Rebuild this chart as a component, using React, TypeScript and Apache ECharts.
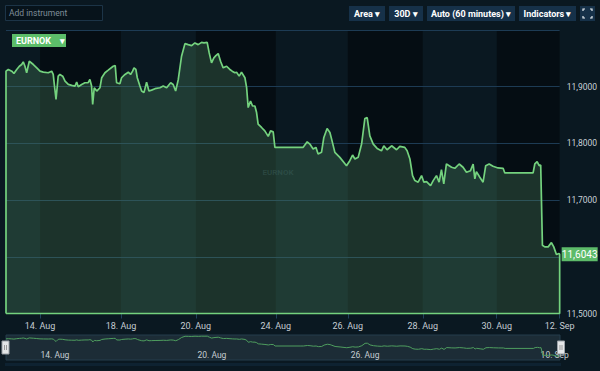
import React, { useEffect, useRef } from "react";
import * as echarts from "echarts";

// ordinal trading-hour index (weekends removed) and EURNOK price
const times = [
  0, 1.5, 3.7, 5.1, 6.9, 8.6, 10.1, 11.1, 12.2, 13.3,
  15.0, 17.6, 19.8, 21.9, 24.0, 27.2, 29.4, 30.4, 31.1, 32.2,
  33.6, 34.7, 36.5, 38.0, 40.1, 42.3, 44.4, 45.5, 46.5, 48.7,
  50.8, 52.9, 54.0, 55.1, 55.8, 56.8, 58.4, 60.5, 61.6, 63.7,
  65.8, 69.0, 70.3, 71.2, 73.3, 74.4, 76.6, 78.7, 80.2, 81.5,
  82.4, 83.6, 84.5, 86.2, 87.3, 88.8, 90.5, 92.0, 93.7, 95.9,
  99.1, 101.2, 103.4, 106.0, 107.6, 109.2, 110.9, 113.0, 115.2, 117.3,
  119.5, 121.6, 123.7, 125.9, 127.4, 129.5, 130.8, 132.3, 133.8, 135.1,
  136.6, 138.1, 139.8, 142.0, 144.1, 145.6, 147.3, 148.4, 150.1, 151.6,
  153.8, 154.9, 155.9, 157.4, 158.7, 160.2, 161.3, 162.3, 164.5, 166.6,
  168.8, 170.3, 172.0, 173.1, 189.2, 191.3, 193.9, 195.6, 197.7, 199.5,
  200.9, 203.1, 204.6, 206.7, 208.5, 209.6, 211.7, 214.9, 219.2, 221.3,
  223.1, 224.6, 226.7, 228.9, 231.0, 232.5, 234.2, 236.4, 238.9, 241.7,
  243.2, 245.3, 248.2, 251.4, 253.5, 256.7, 258.2, 260.0, 261.7, 263.2,
  265.3, 267.5, 269.0, 270.7, 273.3, 275.0, 277.1, 278.8, 280.3, 281.8,
  283.5, 286.8, 288.9, 291.7, 294.2, 296.4, 299.0, 300.7, 301.8, 302.8,
  305.0, 307.1, 308.8, 311.0, 313.5, 316.7, 320.0, 321.1, 339.3, 340.4,
  341.9, 343.2, 344.2, 345.3, 346.8, 349.0, 351.1, 352.6, 354.3, 356.0,
  356.4,
];

const prices = [
  11.9274, 11.9304, 11.9274, 11.9233, 11.9304, 11.9361, 11.9391, 11.9439, 11.9361, 11.9246,
  11.9449, 11.9391, 11.9333, 11.9274, 11.9256, 11.9246, 11.9274, 11.9216, 11.904, 11.8777,
  11.9186, 11.9216, 11.9186, 11.9098, 11.904, 11.9023, 11.9011, 11.9081, 11.9, 11.904,
  11.907, 11.907, 11.9128, 11.9011, 11.8689, 11.8982, 11.8923, 11.8982, 11.9158, 11.9246,
  11.9291, 11.9361, 11.9374, 11.907, 11.9053, 11.9158, 11.9216, 11.9256, 11.9216, 11.9274,
  11.9333, 11.9304, 11.9158, 11.9011, 11.8923, 11.8895, 11.9081, 11.8923, 11.894, 11.8965,
  11.8982, 11.9011, 11.8982, 11.907, 11.904, 11.8923, 11.9128, 11.9537, 11.976, 11.9742,
  11.9725, 11.9772, 11.9742, 11.9782, 11.9772, 11.9782, 11.9596, 11.9421, 11.9509, 11.9549,
  11.9584, 11.9449, 11.9333, 11.9361, 11.9304, 11.9274, 11.9246, 11.9256, 11.9186, 11.9256,
  11.9158, 11.8982, 11.8632, 11.8747, 11.866, 11.866, 11.8544, 11.8339, 11.8281, 11.8221,
  11.8123, 11.8221, 11.8204, 11.793, 11.793, 11.793, 11.8028, 11.7988, 11.79, 11.793,
  11.7812, 11.7842, 11.8105, 11.8263, 11.8193, 11.8075, 11.7842, 11.7754, 11.7607, 11.7695,
  11.7795, 11.7725, 11.7754, 11.7988, 11.8439, 11.8456, 11.8133, 11.7988, 11.7912, 11.787,
  11.7958, 11.7888, 11.7958, 11.7888, 11.7947, 11.793, 11.787, 11.7725, 11.7432, 11.7344,
  11.7316, 11.7432, 11.7316, 11.7326, 11.7256, 11.7344, 11.7432, 11.7316, 11.7537, 11.7286,
  11.7637, 11.7579, 11.7561, 11.7637, 11.7579, 11.7491, 11.7519, 11.7637, 11.7374, 11.7502,
  11.7404, 11.7316, 11.7607, 11.7637, 11.7596, 11.7567, 11.7561, 11.7479, 11.7479, 11.7637,
  11.7677, 11.7607, 11.7619, 11.6204, 11.6175, 11.6175, 11.6251, 11.6175, 11.604, 11.6058,
  11.6043,
];

const xTicks = [21.9, 74.0, 122.2, 173.7, 220.0, 268.3, 315.9, 356.4];
const xTickLabels = ["14. Aug", "18. Aug", "20. Aug", "24. Aug", "26. Aug", "28. Aug", "30. Aug", "12. Sep"];
const navTicks = [31.5, 132.5, 231.0, 353.0];
const navTickLabels = ["14. Aug", "20. Aug", "26. Aug", "10. Sep"];
const yMin = 11.5;
const yMax = 12.0;
const yStep = 0.1;
const navYMin = 11.53;
const navYMax = 12.0;
const symbolName = "EURNOK";
const buttons = ["Area ▾", "30D ▾", "Auto (60 minutes) ▾", "Indicators ▾"];

const FONT = "Roboto, 'Noto Sans', sans-serif";
const GREEN = "#74d27e";

const fmt = (v: number) => v.toFixed(4).replace(".", ",");

function labelFor(ticks: number[], labels: string[]) {
  return (v: number) => {
    const i = ticks.findIndex((t) => Math.abs(t - v) < 0.01);
    return i >= 0 ? labels[i] : "";
  };
}

export default function App() {
  const ref = useRef<HTMLDivElement>(null);

  useEffect(() => {
    if (!ref.current) return;
    const chart = echarts.init(ref.current, undefined, { renderer: "svg" });

    const tFirst = times[0];
    const tLast = times[times.length - 1];
    const lastPrice = prices[prices.length - 1];
    const pts = times.map((t, i) => [t, prices[i]]);
    const outlined = [[tFirst, yMin], ...pts, [tLast, yMin], [tFirst, yMin]];

    const bands: any[] = [];
    for (let i = 0; i + 1 < xTicks.length; i += 2) {
      bands.push([{ xAxis: xTicks[i] }, { xAxis: xTicks[i + 1] }]);
    }

    const btnWidths = [36, 34, 88, 57];
    const btnX = [349, 389, 427, 519];
    const graphics: any[] = [
      {
        type: "rect",
        id: "addBox",
        z: 100,
        shape: { x: 5.5, y: 5.5, width: 97, height: 15 },
        style: { fill: "#07131b", stroke: "#1c3447", lineWidth: 1 },
      },
      {
        type: "text",
        id: "addText",
        z: 101,
        x: 9,
        y: 13,
        style: { text: "Add instrument", fill: "#7f8d98", fontSize: 8.5, fontFamily: FONT, verticalAlign: "middle" },
      },
      {
        type: "rect",
        id: "symBox",
        z: 100,
        shape: { x: 12, y: 34, width: 54, height: 13 },
        style: { fill: "#5cbd69" },
      },
      {
        type: "text",
        id: "symText",
        z: 101,
        x: 16,
        y: 40.5,
        style: { text: symbolName + "    ▾", fill: "#ffffff", fontSize: 9, fontWeight: "bold", fontFamily: FONT, verticalAlign: "middle" },
      },
      {
        type: "text",
        id: "watermark",
        z: 5,
        x: 278,
        y: 172,
        style: {
          text: symbolName,
          fill: "rgba(70,110,105,0.35)",
          fontSize: 8,
          fontWeight: "bold",
          fontFamily: FONT,
          align: "center",
          verticalAlign: "middle",
        },
      },
    ];
    buttons.forEach((b, i) => {
      graphics.push({
        type: "rect",
        id: "btn" + i,
        z: 100,
        shape: { x: btnX[i], y: 6, width: btnWidths[i], height: 15 },
        style: { fill: "#163149" },
      });
      graphics.push({
        type: "text",
        id: "btnText" + i,
        z: 101,
        x: btnX[i] + btnWidths[i] / 2,
        y: 13.5,
        style: {
          text: b,
          fill: "#ffffff",
          fontSize: 9,
          fontWeight: "bold",
          fontFamily: FONT,
          align: "center",
          verticalAlign: "middle",
        },
      });
    });
    // fullscreen icon
    graphics.push({ type: "rect", id: "fsBox", z: 100, shape: { x: 580, y: 6, width: 15, height: 15 }, style: { fill: "#163149" } });
    const cs = { stroke: "#e8eef2", lineWidth: 1.2, fill: null };
    graphics.push({ type: "polyline", id: "fs1", z: 101, shape: { points: [[583, 11], [583, 9], [585, 9]] }, style: cs });
    graphics.push({ type: "polyline", id: "fs2", z: 101, shape: { points: [[590, 9], [592, 9], [592, 11]] }, style: cs });
    graphics.push({ type: "polyline", id: "fs3", z: 101, shape: { points: [[583, 16], [583, 18], [585, 18]] }, style: cs });
    graphics.push({ type: "polyline", id: "fs4", z: 101, shape: { points: [[590, 18], [592, 18], [592, 16]] }, style: cs });
    // navigator handles
    [[2, 341], [557.5, 341]].forEach(([hx, hy], k) => {
      graphics.push({
        type: "rect",
        id: "handle" + k,
        z: 100,
        shape: { x: hx, y: hy, width: 7, height: 13 },
        style: { fill: "#e4e6e8", stroke: "#9aa0a6", lineWidth: 1 },
      });
      graphics.push({ type: "line", id: "hg1" + k, z: 101, shape: { x1: hx + 2.5, y1: hy + 4, x2: hx + 2.5, y2: hy + 9 }, style: { stroke: "#999" } });
      graphics.push({ type: "line", id: "hg2" + k, z: 101, shape: { x1: hx + 4.5, y1: hy + 4, x2: hx + 4.5, y2: hy + 9 }, style: { stroke: "#999" } });
    });
    // scrollbar strip
    graphics.push({ type: "rect", id: "scroll", z: 1, shape: { x: 5, y: 363, width: 556, height: 3 }, style: { fill: "#0e2231" } });

    chart.setOption({
      animation: false,
      backgroundColor: "#0a1821",
      textStyle: { fontFamily: FONT },
      grid: [
        { left: 6, right: 40, top: 30, height: 283.5 },
        {
          left: 6,
          right: 40,
          top: 335,
          height: 25,
          show: true,
          backgroundColor: "#1c2c36",
          borderColor: "#253d4c",
          borderWidth: 1,
        },
      ],
      xAxis: [
        {
          type: "value",
          gridIndex: 0,
          min: 0,
          max: tLast,
          splitLine: { show: false },
          axisLine: { show: false },
          axisTick: { show: true, customValues: xTicks, length: 5, lineStyle: { color: "#21415c" } },
          axisLabel: {
            customValues: xTicks,
            formatter: labelFor(xTicks, xTickLabels),
            color: "#c5ccd3",
            fontSize: 9,
            margin: 8,
            fontFamily: FONT,
          },
        },
        {
          type: "value",
          gridIndex: 1,
          min: 0,
          max: tLast,
          splitLine: { show: false },
          axisLine: { show: false },
          axisTick: { show: false },
          axisLabel: {
            customValues: navTicks,
            formatter: labelFor(navTicks, navTickLabels),
            inside: true,
            margin: 1,
            color: "#c5ccd3",
            fontSize: 8.5,
            fontFamily: FONT,
          },
        },
      ],
      yAxis: [
        {
          type: "value",
          gridIndex: 0,
          position: "right",
          min: yMin,
          max: yMax,
          interval: yStep,
          z: 2,
          axisLine: { show: false },
          axisTick: { show: false },
          splitLine: { show: true, lineStyle: { color: "#1d3b54", width: 1 } },
          axisLabel: {
            showMaxLabel: false,
            color: "#c9d1d8",
            fontSize: 8.5,
            margin: 7,
            fontFamily: FONT,
            // the price flag covers the nearest tick label
            formatter: (v: number) => (Math.abs(v - lastPrice) < 0.02 ? "" : fmt(v)),
          },
        },
        {
          type: "value",
          gridIndex: 1,
          min: navYMin,
          max: navYMax,
          show: false,
          splitLine: { show: false },
        },
      ],
      graphic: graphics,
      series: [
        {
          type: "line",
          name: "bands",
          xAxisIndex: 0,
          yAxisIndex: 0,
          z: 1,
          data: [[tFirst, yMin]],
          symbol: "none",
          lineStyle: { width: 0 },
          silent: true,
          markArea: {
            silent: true,
            itemStyle: { color: "rgba(0,0,0,0.42)" },
            data: bands,
          },
        },
        {
          type: "line",
          name: symbolName,
          xAxisIndex: 0,
          yAxisIndex: 0,
          z: 3,
          clip: false,
          data: outlined,
          symbol: "none",
          lineStyle: { color: GREEN, width: 1.7 },
          areaStyle: { color: "rgba(82,140,98,0.44)" },
        },
        {
          type: "line",
          name: "navigator",
          xAxisIndex: 1,
          yAxisIndex: 1,
          z: 3,
          data: pts,
          symbol: "none",
          lineStyle: { color: "#4f9e5f", width: 1 },
        },
      ],
    });

    // last-price flag, positioned through the chart's own scales
    const p = chart.convertToPixel({ gridIndex: 0 }, [tLast, lastPrice]) as number[];
    if (p && isFinite(p[0]) && isFinite(p[1])) {
      chart.setOption({
        graphic: [
          ...graphics,
          {
            type: "rect",
            id: "priceBox",
            z: 110,
            shape: { x: p[0] + 2, y: p[1] - 7, width: 36, height: 14 },
            style: { fill: "#5dbb6a" },
          },
          {
            type: "text",
            id: "priceText",
            z: 111,
            x: p[0] + 20,
            y: p[1],
            style: {
              text: fmt(lastPrice),
              fill: "#ffffff",
              fontSize: 10,
              fontFamily: FONT,
              align: "center",
              verticalAlign: "middle",
            },
          },
        ],
      });
    }

    return () => chart.dispose();
  }, []);

  return (
    <div
      ref={ref}
      style={{ position: "fixed", left: 0, top: 0, width: 600, height: 371 }}
    />
  );
}
